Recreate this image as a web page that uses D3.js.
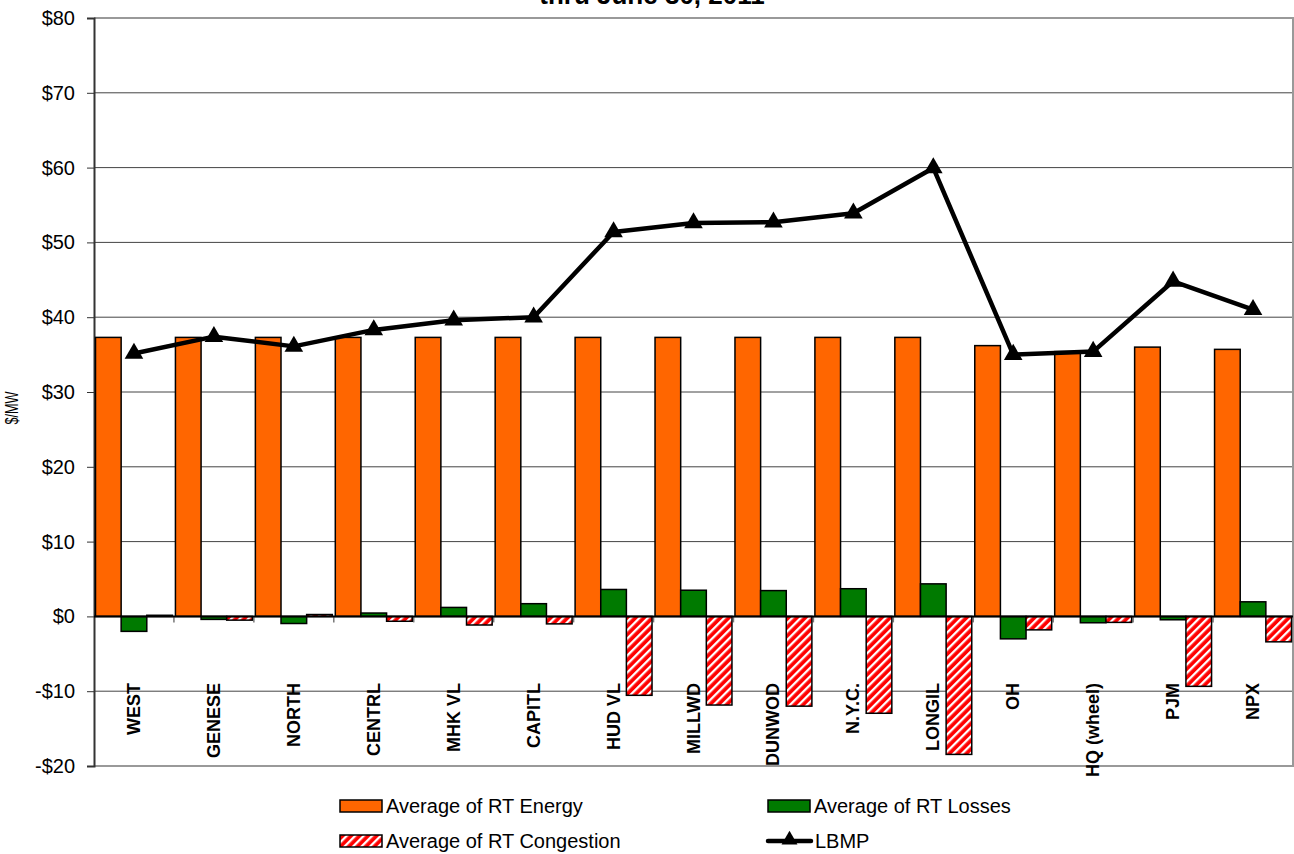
<!DOCTYPE html>
<html>
<head>
<meta charset="utf-8">
<script src="https://cdn.jsdelivr.net/npm/d3@7/dist/d3.min.js"></script>
<style>
  html, body { margin: 0; padding: 0; background: #fff; }
  svg { display: block; font-family: Arial, "Liberation Sans", sans-serif; }
</style>
</head>
<body>
<svg id="chart" width="1294" height="854"></svg>
<script>
// Zones and their average real-time price components ($/MW)
const categories = ["WEST", "GENESE", "NORTH", "CENTRL", "MHK VL", "CAPITL", "HUD VL", "MILLWD",
                    "DUNWOD", "N.Y.C.", "LONGIL", "OH", "HQ (wheel)", "PJM", "NPX"];
const energy     = [37.3, 37.3, 37.3, 37.3, 37.3, 37.3, 37.3, 37.3, 37.3, 37.3, 37.3, 36.2, 35.4, 36.0, 35.7];
const losses     = [-2.0, -0.4, -0.95, 0.45, 1.2, 1.7, 3.6, 3.5, 3.45, 3.7, 4.35, -3.0, -0.85, -0.45, 1.95];
const congestion = [0.15, -0.5, 0.25, -0.65, -1.15, -1.0, -10.55, -11.85, -12.0, -12.95, -18.45, -1.8, -0.8, -9.35, -3.4];
const lbmp       = [35.15, 37.4, 36.1, 38.3, 39.6, 40.0, 51.4, 52.6, 52.7, 53.9, 59.95, 35.0, 35.4, 44.8, 41.0];
const yTicks     = [-20, -10, 0, 10, 20, 30, 40, 50, 60, 70, 80];
const seriesNames = ["Average of RT Energy", "Average of RT Losses", "Average of RT Congestion", "LBMP"];
const titleText  = "thru June 30, 2011";

const svg = d3.select("#chart");
const plot = { left: 94, right: 1293, top: 18, bottom: 766 };

const y = d3.scaleLinear().domain([-20, 80]).range([plot.bottom, plot.top]);
const x = d3.scaleBand().domain(categories).range([plot.left, plot.right])
  .paddingInner(0.0375).paddingOuter(0.01875);
const sub = d3.scaleBand().domain(["energy", "losses", "congestion"]).range([0, x.bandwidth()]);

// Hatched fill for congestion bars
const defs = svg.append("defs");
const pat = defs.append("pattern").attr("id", "hatch").attr("patternUnits", "userSpaceOnUse")
  .attr("width", 6).attr("height", 6).attr("patternTransform", "rotate(45)");
pat.append("rect").attr("width", 6).attr("height", 6).attr("fill", "#ff0000");
pat.append("rect").attr("x", 0).attr("width", 2.3).attr("height", 6).attr("fill", "#ffffff");

// Title (second line, partly above the top edge)
svg.append("text").attr("x", 652).attr("y", 4).attr("text-anchor", "middle")
  .attr("font-size", 26).attr("font-weight", "bold").text(titleText);

// Gridlines
svg.append("g").selectAll("line").data(yTicks.filter(d => d !== 0 && d !== -20 && d !== 80)).join("line")
  .attr("x1", plot.left).attr("x2", plot.right)
  .attr("y1", d => y(d)).attr("y2", d => y(d))
  .attr("stroke", "#444").attr("stroke-width", 1);

// Plot frame (top, right, bottom)
svg.append("path")
  .attr("d", `M${plot.left},${plot.top}H${plot.right}V${plot.bottom}H${plot.left}`)
  .attr("fill", "none").attr("stroke", "#999").attr("stroke-width", 2);

// Y axis
const yAxis = d3.axisLeft(y).tickValues(yTicks).tickSize(7).tickPadding(12)
  .tickFormat(d => (d < 0 ? "-$" : "$") + Math.abs(d));
const gy = svg.append("g").attr("transform", `translate(${plot.left},0)`).call(yAxis);
gy.select(".domain").attr("stroke", "#333").attr("stroke-width", 2);
gy.selectAll(".tick line").attr("stroke", "#333");
gy.selectAll(".tick text").attr("font-size", 20).attr("font-family", "Arial, 'Liberation Sans', sans-serif").attr("fill", "#000");

svg.append("text").attr("transform", "translate(18,408) rotate(-90)")
  .attr("text-anchor", "middle").attr("font-size", 18)
  .attr("textLength", 33).attr("lengthAdjust", "spacingAndGlyphs").text("$/MW");

// Category boundary ticks along the zero line
const bounds = categories.map((c, i) => plot.left + i * x.step()).concat([plot.right]);
svg.append("g").selectAll("line").data(bounds.slice(1, -1)).join("line")
  .attr("x1", d => d).attr("x2", d => d)
  .attr("y1", y(0)).attr("y2", y(0) + 6)
  .attr("stroke", "#777").attr("stroke-width", 1.5);

// Bars
const series = [
  { key: "energy", values: energy, fill: "#ff6600" },
  { key: "losses", values: losses, fill: "#007a00" },
  { key: "congestion", values: congestion, fill: "url(#hatch)" }
];
series.forEach(s => {
  svg.append("g").selectAll("rect").data(s.values).join("rect")
    .attr("x", (d, i) => x(categories[i]) + sub(s.key))
    .attr("width", sub.bandwidth())
    .attr("y", d => y(Math.max(0, d)))
    .attr("height", d => Math.abs(y(d) - y(0)))
    .attr("fill", s.fill)
    .attr("stroke", "#000").attr("stroke-width", 1.5);
});

// Zero line
svg.append("line").attr("x1", plot.left).attr("x2", plot.right)
  .attr("y1", y(0)).attr("y2", y(0)).attr("stroke", "#000").attr("stroke-width", 2);

// Category labels
svg.append("g").selectAll("text").data(categories).join("text")
  .attr("transform", d => `translate(${x(d) + x.bandwidth() / 2 + 6},683) rotate(-90)`)
  .attr("text-anchor", "end").attr("font-size", 18).attr("font-weight", "bold")
  .text(d => d);

// LBMP line with triangle markers
const cx = i => x(categories[i]) + x.bandwidth() / 2;
svg.append("path").datum(lbmp)
  .attr("d", d3.line().x((d, i) => cx(i)).y(d => y(d)))
  .attr("fill", "none").attr("stroke", "#000").attr("stroke-width", 4.5).attr("stroke-linejoin", "round");
const tri = d3.symbol().type(d3.symbolTriangle).size(150);
svg.append("g").selectAll("path").data(lbmp).join("path")
  .attr("transform", (d, i) => `translate(${cx(i)},${y(d)})`)
  .attr("d", tri).attr("fill", "#000");

// Legend
const legend = svg.append("g").attr("font-size", 20);
const legendItems = [
  { name: seriesNames[0], type: "rect", fill: "#ff6600", x: 340, y: 806 },
  { name: seriesNames[1], type: "rect", fill: "#007a00", x: 768, y: 806 },
  { name: seriesNames[2], type: "rect", fill: "url(#hatch)", x: 340, y: 841 },
  { name: seriesNames[3], type: "line", x: 768, y: 841 }
];
legendItems.forEach(it => {
  const g = legend.append("g").attr("transform", `translate(${it.x},${it.y})`);
  if (it.type === "rect") {
    g.append("rect").attr("x", 0).attr("y", -6).attr("width", 42).attr("height", 12)
      .attr("fill", it.fill).attr("stroke", "#000").attr("stroke-width", 1.5);
  } else {
    g.append("line").attr("x1", 0).attr("x2", 43).attr("y1", 0).attr("y2", 0)
      .attr("stroke", "#000").attr("stroke-width", 4.5).attr("stroke-linecap", "round");
    g.append("path").attr("transform", "translate(21.5,-1)")
      .attr("d", d3.symbol().type(d3.symbolTriangle).size(110)).attr("fill", "#000");
  }
  g.append("text").attr("x", it.type === "rect" ? 46 : 47).attr("y", 0).attr("dy", "0.35em").text(it.name);
});
</script>
</body>
</html>
